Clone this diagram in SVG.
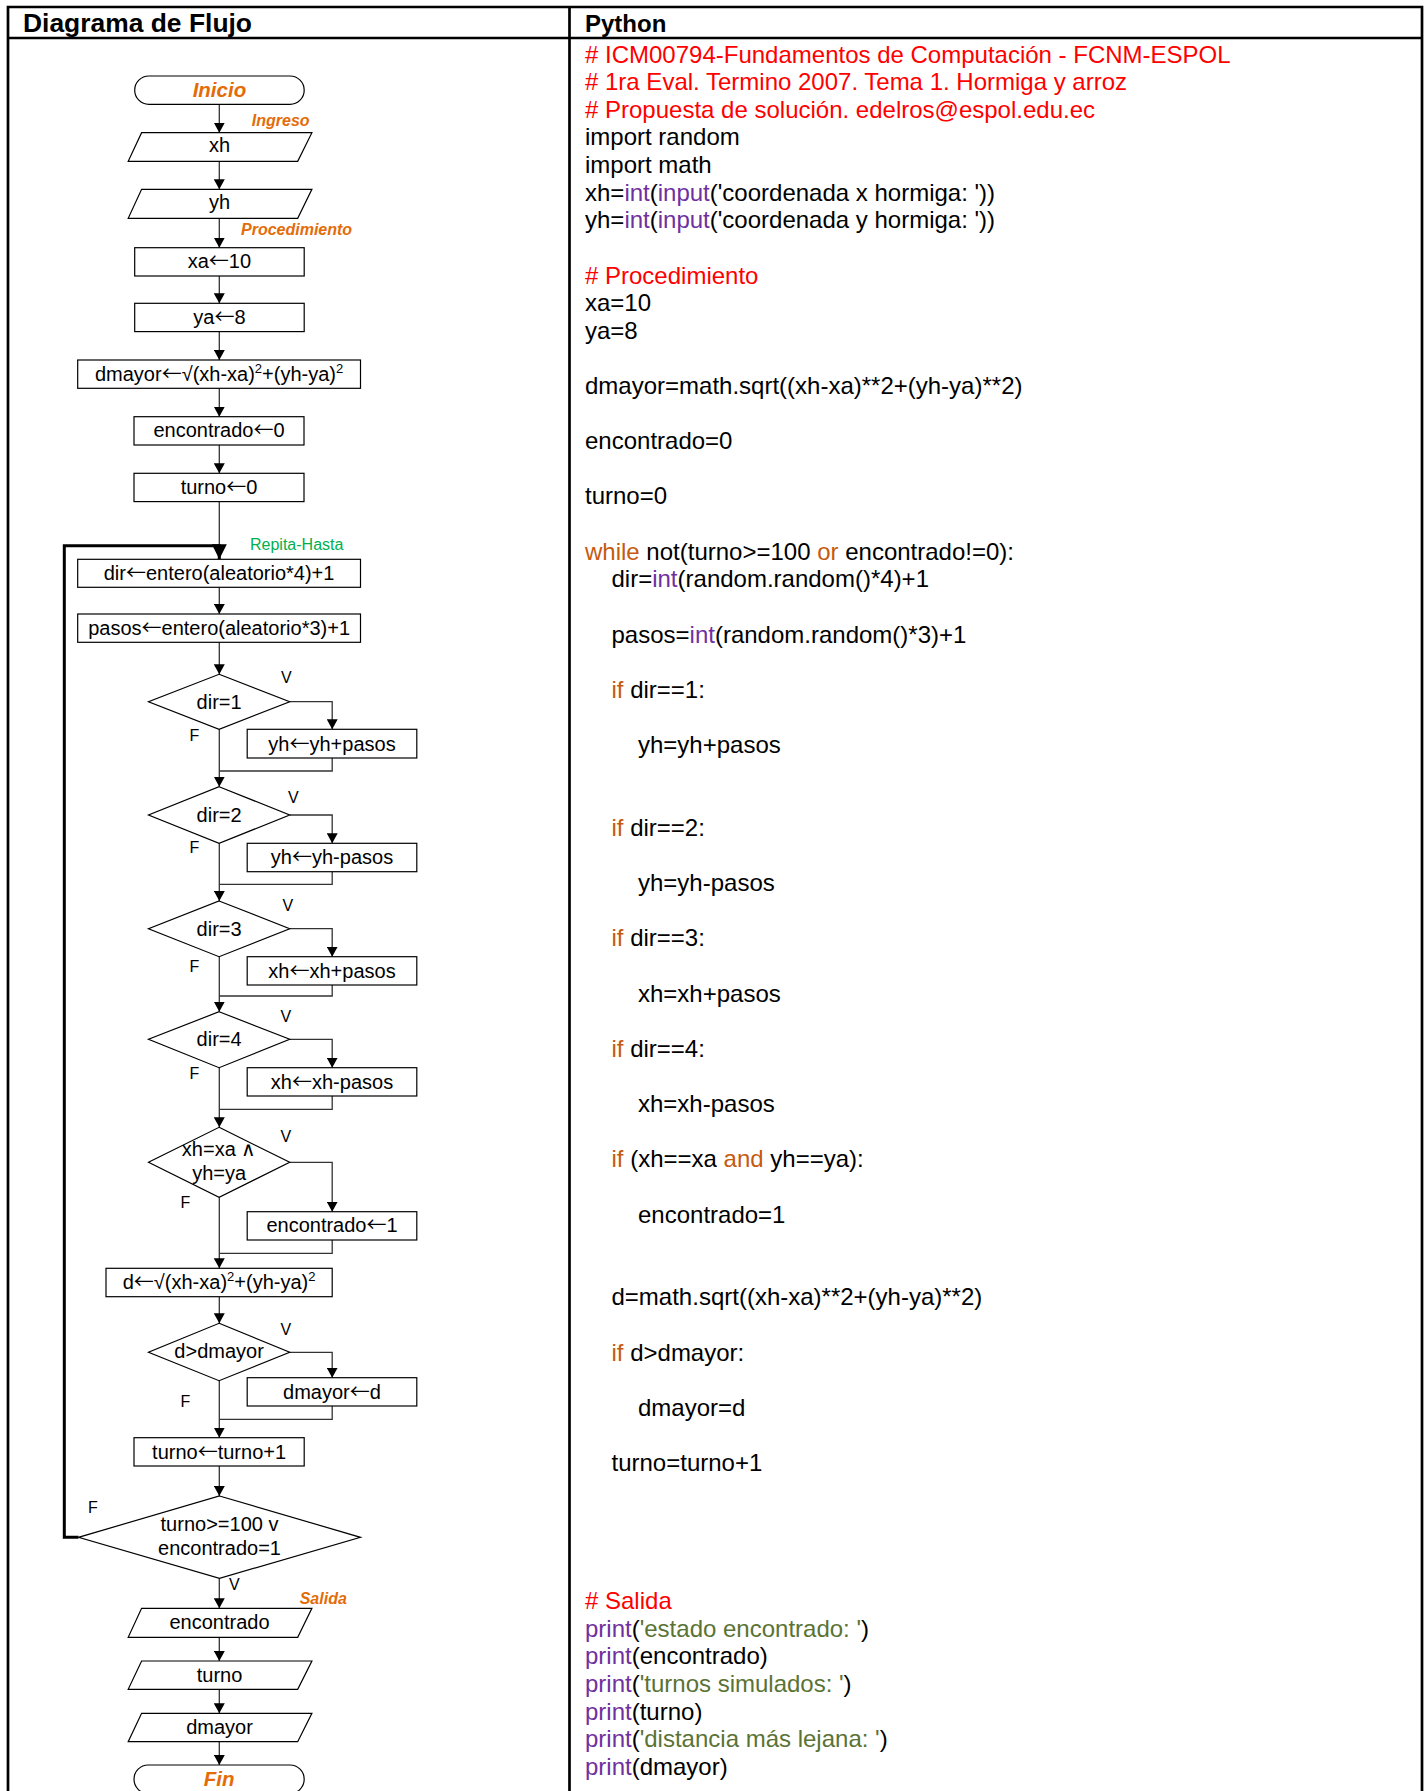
<svg xmlns="http://www.w3.org/2000/svg" width="1428" height="1791" viewBox="0 0 1428 1791">
<style>
.frame{fill:none;stroke:#000;stroke-width:2.7}
.box{fill:#fff;stroke:#000;stroke-width:1.2}
.conn{fill:none;stroke:#333;stroke-width:1.3}
.loop{fill:none;stroke:#000;stroke-width:3}
.t{font-family:"Liberation Sans",Arial,sans-serif;font-size:20px;text-anchor:middle;fill:#000}
.ar{font-family:"Noto Sans CJK JP","DejaVu Sans",sans-serif}
.lab{font-family:"Liberation Sans",Arial,sans-serif;font-size:16px;fill:#000}
.or{font-family:"Liberation Sans",Arial,sans-serif;font-weight:bold;font-style:italic;fill:#E36C09}
.hd{font-family:"Liberation Sans",Arial,sans-serif;font-weight:bold;fill:#000}
.code{font-family:"Liberation Sans",Arial,sans-serif;font-size:24px;fill:#000}
.cm{fill:#FF0000}
.kw{fill:#C55A11}
.bi{fill:#7030A0}
.st{fill:#5A7334}
</style>
<defs>
<marker id="ah" markerWidth="11" markerHeight="11" refX="10" refY="5.5" orient="auto" markerUnits="userSpaceOnUse"><path d="M0,0 L10,5.5 L0,11 Z" fill="#000"/></marker>
<marker id="ahb" markerWidth="16" markerHeight="16" refX="15" refY="7.5" orient="auto" markerUnits="userSpaceOnUse"><path d="M0,0 L15,7.5 L0,15 Z" fill="#000"/></marker>
</defs>
<rect width="1428" height="1791" fill="#fff"/>

<g id="table">
<path class="frame" d="M8,1795 V7 H1422 V1795"/>
<line class="frame" x1="8" y1="38" x2="1422" y2="38"/>
<line class="frame" x1="569.5" y1="7" x2="569.5" y2="1795"/>
<text class="hd" x="23" y="31.5" font-size="25" textLength="229" lengthAdjust="spacingAndGlyphs">Diagrama de Flujo</text>
<text class="hd" x="585" y="31.5" font-size="24">Python</text>
</g>

<g id="connectors">
<line class="conn" x1="219.3" y1="104.3" x2="219.3" y2="132.7" marker-end="url(#ah)"/>
<line class="conn" x1="219.3" y1="161.3" x2="219.3" y2="189.3" marker-end="url(#ah)"/>
<line class="conn" x1="219.3" y1="218.3" x2="219.3" y2="247.7" marker-end="url(#ah)"/>
<line class="conn" x1="219.3" y1="276" x2="219.3" y2="303.3" marker-end="url(#ah)"/>
<line class="conn" x1="219.3" y1="331.7" x2="219.3" y2="360" marker-end="url(#ah)"/>
<line class="conn" x1="219.3" y1="388.3" x2="219.3" y2="416.7" marker-end="url(#ah)"/>
<line class="conn" x1="219.3" y1="445" x2="219.3" y2="473.3" marker-end="url(#ah)"/>
<line class="conn" x1="219.3" y1="501.7" x2="219.3" y2="546"/>
<path class="loop" d="M78.5,1537.3 H64.3 V545.7 H219.3 V559.3" marker-end="url(#ahb)"/>
<line class="conn" x1="219.3" y1="587.3" x2="219.3" y2="614" marker-end="url(#ah)"/>
<line class="conn" x1="219.3" y1="642.3" x2="219.3" y2="674.3" marker-end="url(#ah)"/>
<line class="conn" x1="219.3" y1="729.3" x2="219.3" y2="786.7" marker-end="url(#ah)"/>
<path class="conn" d="M289.7,701.7 H332.2 V729.3" marker-end="url(#ah)"/>
<path class="conn" d="M332.2,758 V771 H219.3"/>
<line class="conn" x1="219.3" y1="843.3" x2="219.3" y2="901" marker-end="url(#ah)"/>
<path class="conn" d="M289.7,815 H332.2 V843.3" marker-end="url(#ah)"/>
<path class="conn" d="M332.2,871.7 V884.3 H219.3"/>
<line class="conn" x1="219.3" y1="956.7" x2="219.3" y2="1011.7" marker-end="url(#ah)"/>
<path class="conn" d="M289.7,928.7 H332.2 V956.7" marker-end="url(#ah)"/>
<path class="conn" d="M332.2,985 V996 H219.3"/>
<line class="conn" x1="219.3" y1="1067.7" x2="219.3" y2="1127.3" marker-end="url(#ah)"/>
<path class="conn" d="M289.7,1039.3 H332.2 V1067.7" marker-end="url(#ah)"/>
<path class="conn" d="M332.2,1096 V1109.3 H219.3"/>
<line class="conn" x1="219.3" y1="1197.3" x2="219.3" y2="1268.3" marker-end="url(#ah)"/>
<path class="conn" d="M289.7,1162.3 H332.2 V1211.7" marker-end="url(#ah)"/>
<path class="conn" d="M332.2,1240 V1253.3 H219.3"/>
<line class="conn" x1="219.3" y1="1296.7" x2="219.3" y2="1323.3" marker-end="url(#ah)"/>
<line class="conn" x1="219.3" y1="1380.7" x2="219.3" y2="1437.7" marker-end="url(#ah)"/>
<path class="conn" d="M289.7,1352.3 H332.2 V1377.7" marker-end="url(#ah)"/>
<path class="conn" d="M332.2,1406 V1419.3 H219.3"/>
<line class="conn" x1="219.3" y1="1466" x2="219.3" y2="1496" marker-end="url(#ah)"/>
<line class="conn" x1="219.3" y1="1578.3" x2="219.3" y2="1608.3" marker-end="url(#ah)"/>
<line class="conn" x1="219.3" y1="1637.3" x2="219.3" y2="1661" marker-end="url(#ah)"/>
<line class="conn" x1="219.3" y1="1689.3" x2="219.3" y2="1713.3" marker-end="url(#ah)"/>
<line class="conn" x1="219.3" y1="1741.7" x2="219.3" y2="1765" marker-end="url(#ah)"/>
</g>

<g id="labels">
<text class="or" x="251.8" y="126" font-size="16">Ingreso</text>
<text class="or" x="241" y="235" font-size="16">Procedimiento</text>
<text x="250" y="550" font-family="Liberation Sans, Arial, sans-serif" font-size="16" fill="#00B050">Repita-Hasta</text>
<text class="or" x="299.7" y="1604" font-size="16">Salida</text>
<text class="lab" x="281" y="683.3">V</text>
<text class="lab" x="189.4" y="741">F</text>
<text class="lab" x="288" y="802.7">V</text>
<text class="lab" x="189.4" y="853">F</text>
<text class="lab" x="282.4" y="911">V</text>
<text class="lab" x="189.4" y="971.7">F</text>
<text class="lab" x="280.5" y="1021.7">V</text>
<text class="lab" x="189.4" y="1079">F</text>
<text class="lab" x="280.5" y="1141.7">V</text>
<text class="lab" x="180.6" y="1208.3">F</text>
<text class="lab" x="280.5" y="1335">V</text>
<text class="lab" x="180.6" y="1406.7">F</text>
<text class="lab" x="88" y="1513.3">F</text>
<text class="lab" x="228.9" y="1590">V</text>
</g>

<g id="n-inicio"><rect class="box" x="134.7" y="76" width="169.5" height="28.3" rx="14.15"/><text class="or" x="219.4" y="97" font-size="20.5" text-anchor="middle">Inicio</text></g>
<g id="n-xh"><polygon class="box" points="141.6,132.7 311.9,132.7 297.7,161.3 128.2,161.3"/><text class="t" x="219.5" y="152.3">xh</text></g>
<g id="n-yh"><polygon class="box" points="141.6,189.3 311.9,189.3 297.7,218.3 128.2,218.3"/><text class="t" x="219.5" y="209">yh</text></g>
<g id="n-xa"><rect class="box" x="134.7" y="247.7" width="169.5" height="28.3"/><text class="t" x="219.4" y="268">xa<tspan class="ar">←</tspan>10</text></g>
<g id="n-ya"><rect class="box" x="134.7" y="303.3" width="169.5" height="28.3"/><text class="t" x="219.4" y="323.5">ya<tspan class="ar">←</tspan>8</text></g>
<g id="n-dmayor0"><rect class="box" x="77.7" y="360" width="282.8" height="28.3"/><text class="t" x="219.1" y="380.5">dmayor<tspan class="ar">←</tspan>√(xh-xa)<tspan font-size="13" dy="-8">2</tspan><tspan dy="8">+(yh-ya)</tspan><tspan font-size="13" dy="-8">2</tspan></text></g>
<g id="n-enc0"><rect class="box" x="134" y="416.7" width="170" height="28.3"/><text class="t" x="219" y="437">encontrado<tspan class="ar">←</tspan>0</text></g>
<g id="n-turno0"><rect class="box" x="134" y="473.3" width="170" height="28.3"/><text class="t" x="219" y="494.3">turno<tspan class="ar">←</tspan>0</text></g>
<g id="n-dir"><rect class="box" x="77.7" y="559.3" width="282.8" height="28" /><text class="t" x="219.1" y="580">dir<tspan class="ar">←</tspan>entero(aleatorio*4)+1</text></g>
<g id="n-pasos"><rect class="box" x="77.7" y="614" width="282.8" height="28.3"/><text class="t" x="219.1" y="634.5">pasos<tspan class="ar">←</tspan>entero(aleatorio*3)+1</text></g>
<g id="n-d1"><polygon class="box" points="219.1,674.3 289.7,701.7 219.1,729.3 148.5,701.7"/><text class="t" x="219.1" y="708.5">dir=1</text></g>
<g id="n-b1"><rect class="box" x="247.2" y="729.3" width="169.6" height="28.7"/><text class="t" x="332" y="750.5">yh<tspan class="ar">←</tspan>yh+pasos</text></g>
<g id="n-d2"><polygon class="box" points="219.1,786.7 289.7,815 219.1,843.3 148.5,815"/><text class="t" x="219.1" y="822">dir=2</text></g>
<g id="n-b2"><rect class="box" x="247.2" y="843.3" width="169.6" height="28.4"/><text class="t" x="332" y="864">yh<tspan class="ar">←</tspan>yh-pasos</text></g>
<g id="n-d3"><polygon class="box" points="219.1,901 289.7,928.7 219.1,956.7 148.5,928.7"/><text class="t" x="219.1" y="935.5">dir=3</text></g>
<g id="n-b3"><rect class="box" x="247.2" y="956.7" width="169.6" height="28.3"/><text class="t" x="332" y="977.5">xh<tspan class="ar">←</tspan>xh+pasos</text></g>
<g id="n-d4"><polygon class="box" points="219.1,1011.7 289.7,1039.3 219.1,1067.7 148.5,1039.3"/><text class="t" x="219.1" y="1046">dir=4</text></g>
<g id="n-b4"><rect class="box" x="247.2" y="1067.7" width="169.6" height="28.3"/><text class="t" x="332" y="1088.5">xh<tspan class="ar">←</tspan>xh-pasos</text></g>
<g id="n-d5"><polygon class="box" points="219.1,1127.3 289.7,1162.3 219.1,1197.3 148.5,1162.3"/><text class="t" x="219.1" y="1155.5">xh=xa ∧</text><text class="t" x="219.1" y="1179.5">yh=ya</text></g>
<g id="n-b5"><rect class="box" x="247.2" y="1211.7" width="169.6" height="28.3"/><text class="t" x="332" y="1232">encontrado<tspan class="ar">←</tspan>1</text></g>
<g id="n-dist"><rect class="box" x="106" y="1268.3" width="226.2" height="28.4"/><text class="t" x="219.1" y="1288.5">d<tspan class="ar">←</tspan>√(xh-xa)<tspan font-size="13" dy="-8">2</tspan><tspan dy="8">+(yh-ya)</tspan><tspan font-size="13" dy="-8">2</tspan></text></g>
<g id="n-d6"><polygon class="box" points="219.1,1323.3 289.7,1352.3 219.1,1380.7 148.5,1352.3"/><text class="t" x="219.1" y="1358">d&gt;dmayor</text></g>
<g id="n-b6"><rect class="box" x="247.2" y="1377.7" width="169.6" height="28.3"/><text class="t" x="332" y="1398.5">dmayor<tspan class="ar">←</tspan>d</text></g>
<g id="n-turno1"><rect class="box" x="134" y="1437.7" width="170.2" height="28.3"/><text class="t" x="219.1" y="1458.5">turno<tspan class="ar">←</tspan>turno+1</text></g>
<g id="n-until"><polygon class="box" points="219.5,1496 360.5,1537.3 219.5,1578.3 78.5,1537.3"/><text class="t" x="219.5" y="1531">turno&gt;=100 v</text><text class="t" x="219.5" y="1554.5">encontrado=1</text></g>
<g id="n-out1"><polygon class="box" points="141.6,1608.3 311.9,1608.3 297.7,1637.3 128.2,1637.3"/><text class="t" x="219.5" y="1629">encontrado</text></g>
<g id="n-out2"><polygon class="box" points="141.6,1661 311.9,1661 297.7,1689.3 128.2,1689.3"/><text class="t" x="219.5" y="1681.5">turno</text></g>
<g id="n-out3"><polygon class="box" points="141.6,1713.3 311.9,1713.3 297.7,1741.7 128.2,1741.7"/><text class="t" x="219.5" y="1733.5">dmayor</text></g>
<g id="n-fin"><rect class="box" x="134" y="1765" width="170.2" height="28.5" rx="14.2"/><text class="or" x="219.1" y="1786" font-size="20.5" text-anchor="middle">Fin</text></g>

<g id="code" class="code">
<text x="585" y="62.5" class="cm"># ICM00794-Fundamentos de Computación - FCNM-ESPOL</text>
<text x="585" y="90.1" class="cm"># 1ra Eval. Termino 2007. Tema 1. Hormiga y arroz</text>
<text x="585" y="117.7" class="cm"># Propuesta de solución. edelros@espol.edu.ec</text>
<text x="585" y="145.4">import random</text>
<text x="585" y="173">import math</text>
<text x="585" y="200.6">xh=<tspan class="bi">int</tspan>(<tspan class="bi">input</tspan>('coordenada x hormiga: '))</text>
<text x="585" y="228.2">yh=<tspan class="bi">int</tspan>(<tspan class="bi">input</tspan>('coordenada y hormiga: '))</text>
<text x="585" y="283.5" class="cm"># Procedimiento</text>
<text x="585" y="311.1">xa=10</text>
<text x="585" y="338.7">ya=8</text>
<text x="585" y="393.9">dmayor=math.sqrt((xh-xa)**2+(yh-ya)**2)</text>
<text x="585" y="449.2">encontrado=0</text>
<text x="585" y="504.4">turno=0</text>
<text x="585" y="559.7"><tspan class="kw">while</tspan> not(turno&gt;=100 <tspan class="kw">or</tspan> encontrado!=0):</text>
<text x="611.5" y="587.3">dir=<tspan class="bi">int</tspan>(random.random()*4)+1</text>
<text x="611.5" y="642.5">pasos=<tspan class="bi">int</tspan>(random.random()*3)+1</text>
<text x="611.5" y="697.8"><tspan class="kw">if</tspan> dir==1:</text>
<text x="638" y="753">yh=yh+pasos</text>
<text x="611.5" y="835.9"><tspan class="kw">if</tspan> dir==2:</text>
<text x="638" y="891.1">yh=yh-pasos</text>
<text x="611.5" y="946.3"><tspan class="kw">if</tspan> dir==3:</text>
<text x="638" y="1001.6">xh=xh+pasos</text>
<text x="611.5" y="1056.8"><tspan class="kw">if</tspan> dir==4:</text>
<text x="638" y="1112.1">xh=xh-pasos</text>
<text x="611.5" y="1167.3"><tspan class="kw">if</tspan> (xh==xa <tspan class="kw">and</tspan> yh==ya):</text>
<text x="638" y="1222.5">encontrado=1</text>
<text x="611.5" y="1305.4">d=math.sqrt((xh-xa)**2+(yh-ya)**2)</text>
<text x="611.5" y="1360.6"><tspan class="kw">if</tspan> d&gt;dmayor:</text>
<text x="638" y="1415.9">dmayor=d</text>
<text x="611.5" y="1471.1">turno=turno+1</text>
<text x="585" y="1609.2" class="cm"># Salida</text>
<text x="585" y="1636.8"><tspan class="bi">print</tspan>(<tspan class="st">'estado encontrado: '</tspan>)</text>
<text x="585" y="1664.4"><tspan class="bi">print</tspan>(encontrado)</text>
<text x="585" y="1692"><tspan class="bi">print</tspan>(<tspan class="st">'turnos simulados: '</tspan>)</text>
<text x="585" y="1719.7"><tspan class="bi">print</tspan>(turno)</text>
<text x="585" y="1747.3"><tspan class="bi">print</tspan>(<tspan class="st">'distancia más lejana: '</tspan>)</text>
<text x="585" y="1774.9"><tspan class="bi">print</tspan>(dmayor)</text>
</g>
</svg>
